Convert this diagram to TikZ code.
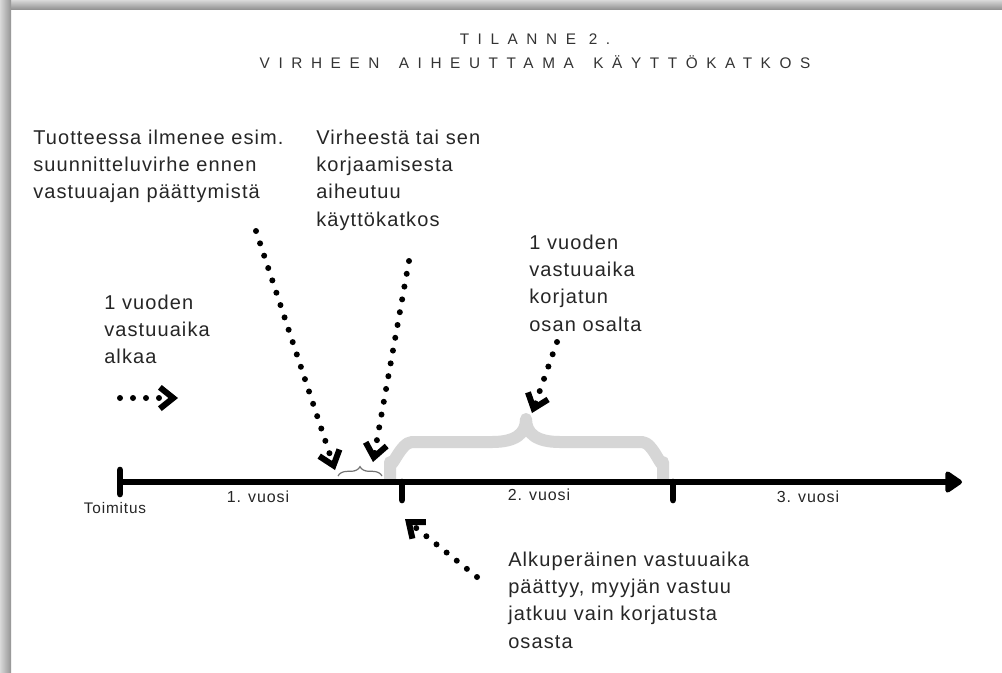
\documentclass[tikz,border=0pt]{standalone}
\usepackage{fontspec}
\setmainfont{Liberation Sans}[LetterSpace=5.5]
\newfontfamily\titlefont{Liberation Sans}[LetterSpace=56]
\usetikzlibrary{arrows.meta,decorations.pathreplacing}

\begin{document}
\begin{tikzpicture}[x=0.75pt,y=-0.75pt,
    txt/.style={anchor=base west,align=left,inner sep=0pt,text width=7cm,
      font=\fontsize{15}{20.5}\selectfont,text=black!85},
    lbl/.style={anchor=base,inner sep=0pt,
      font=\fontsize{12}{14}\selectfont,text=black!85},
    ttl/.style={anchor=base,inner sep=0pt,
      font=\titlefont\fontsize{11.5}{13}\selectfont,text=black!80},
    dots/.style={line width=4.5pt,line cap=round,dash pattern=on 0pt off 9.75pt,
      -{Straight Barb[length=10pt,width=16pt]}},
    axis/.style={line width=5pt,-{Triangle[round,length=14pt,width=18pt]}},
    tick/.style={line width=5pt,line cap=round},
    bigbrace/.style={line width=9pt,black!16,line join=round},
    smallbrace/.style={decorate,decoration={brace,amplitude=7pt},
      line width=0.9pt,black!55}]
    \useasboundingbox (0,0) rectangle (1002,672);
    %frame
    \fill[white] (0,0) rectangle (1002,672);
    \shade[top color=black!15,bottom color=black!42] (0,0) rectangle (1002,9);
    \shade[left color=black!15,right color=black!42] (0,0) rectangle (11,672);
    %title
    \node[ttl] (t1) at (535,44) {TILANNE 2.};
    \node[ttl] (t2) at (535,68) {VIRHEEN \hspace{5pt}AIHEUTTAMA \hspace{5pt}KÄYTTÖKATKOS};
    %texts
    \node[txt] (vika) at (33,144) {Tuotteessa ilmenee esim.\\suunnitteluvirhe ennen\\vastuuajan päättymistä};
    \node[txt] (katko) at (316,144) {Virheestä tai sen\\korjaamisesta\\aiheutuu\\käyttökatkos};
    \node[txt] (alku) at (104,309) {1 vuoden\\vastuuaika\\alkaa};
    \node[txt] (uusi) at (529,249) {1 vuoden\\vastuuaika\\korjatun\\osan osalta};
    \node[txt] (loppu) at (508,566) {Alkuperäinen vastuuaika\\päättyy, myyjän vastuu\\jatkuu vain korjatusta\\osasta};
    %braces
    \draw[bigbrace] (390,480) -- (390,462) to[out=-90,in=180] (412,442) -- (492,442)
      .. controls (515,442) and (526,434) .. (526,419)
      .. controls (526,434) and (537,442) .. (560,442) -- (642,442)
      to[out=0,in=-90] (663,462) -- (663,480);
    \draw[smallbrace] (338,476) -- (382,476);
    %timeline
    \coordinate (t0) at (120,482);
    \coordinate (tend) at (962,482);
    \draw[axis] (t0) -- (tend);
    \draw[tick] (120,470) -- (120,494);
    \draw[tick] (402,482) -- (402,500);
    \draw[tick] (673,482) -- (673,500);
    \node[lbl,font=\fontsize{11.5}{13}\selectfont] (toim) at (115,513) {Toimitus};
    \node[lbl] (v1) at (258,502) {1. vuosi};
    \node[lbl] (v2) at (539,500) {2. vuosi};
    \node[lbl] (v3) at (808,502) {3. vuosi};
    %arrows
    \coordinate (s1) at (120,398);
    \coordinate (e1) at (178,398);
    \coordinate (s2) at (256,231);
    \coordinate (e2) at (335,470);
    \coordinate (s3) at (409,261);
    \coordinate (e3) at (373,462);
    \coordinate (s4) at (557,342);
    \coordinate (e4) at (532,413);
    \coordinate (s5) at (477,577);
    \coordinate (e5) at (405,519);
    \draw[dots] (s1) -- (e1);
    \draw[dots] (s2) -- (e2);
    \draw[dots] (s3) -- (e3);
    \draw[dots] (s4) -- (e4);
    \draw[dots] (s5) -- (e5);
\end{tikzpicture}
\end{document}
